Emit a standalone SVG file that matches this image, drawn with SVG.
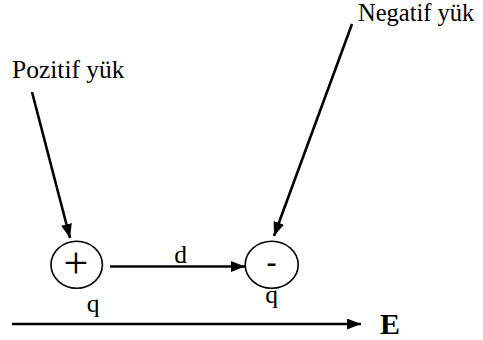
<svg xmlns="http://www.w3.org/2000/svg" width="483" height="340" viewBox="0 0 483 340">
<style>
.t{font-family:"Liberation Serif","Times New Roman",serif;font-size:25.5px;fill:#000}
.ln{stroke:#000;stroke-width:2.6;fill:none}
.c{stroke:#000;stroke-width:1.6;fill:#fff}
</style>
<defs>
<marker id="ah" viewBox="0 0 14 11" refX="14" refY="5.5" markerWidth="14" markerHeight="11" markerUnits="userSpaceOnUse" orient="auto">
<path d="M0,0 L14,5.5 L0,11 Z" fill="#000"/>
</marker>
</defs>
<rect width="483" height="340" fill="#fff"/>
<g id="connectors">
<line class="ln" x1="32" y1="92" x2="70" y2="238" marker-end="url(#ah)"/>
<line class="ln" x1="352" y1="24" x2="274" y2="236" marker-end="url(#ah)"/>
<line class="ln" x1="110" y1="266.5" x2="245" y2="266.5" marker-end="url(#ah)"/>
<line class="ln" x1="12" y1="324" x2="361" y2="324" marker-end="url(#ah)"/>
</g>
<g id="label-pozitif"><text class="t" x="12" y="78">Pozitif yük</text></g>
<g id="label-negatif"><text class="t" x="358" y="21" style="font-size:24.5px">Negatif yük</text></g>
<g id="node-plus">
<ellipse class="c" cx="76.7" cy="264.7" rx="25.7" ry="23.5"/>
<text class="t" x="76" y="278" text-anchor="middle" style="font-size:44px">+</text>
</g>
<g id="node-minus">
<ellipse class="c" cx="271.7" cy="264.7" rx="26.5" ry="23.5"/>
<text class="t" x="271.5" y="272" text-anchor="middle" style="font-size:30px;font-weight:bold">-</text>
</g>
<text class="t" x="180.5" y="263" text-anchor="middle">d</text>
<text class="t" x="93" y="312" text-anchor="middle">q</text>
<text class="t" x="271.5" y="303" text-anchor="middle">q</text>
<text class="t" x="380" y="334" style="font-weight:bold;font-size:30px">E</text>
</svg>
